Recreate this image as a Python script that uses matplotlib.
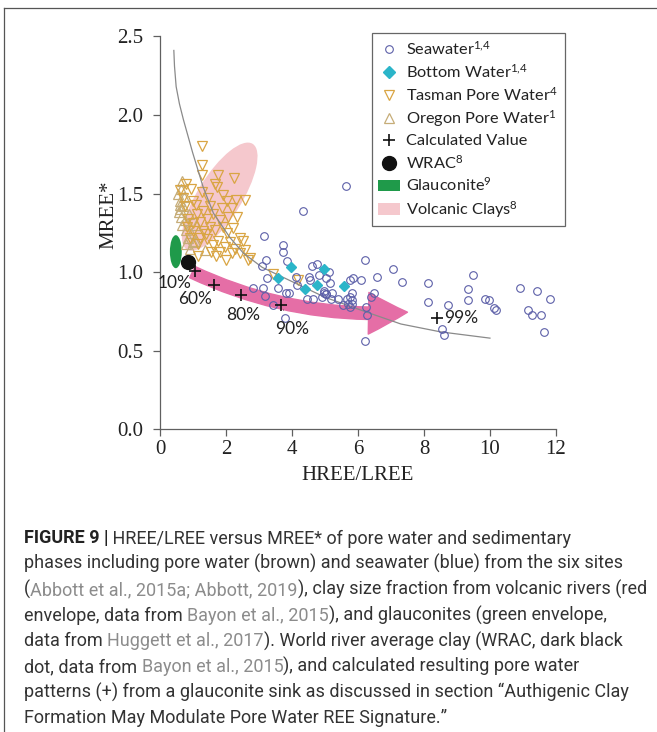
import matplotlib
matplotlib.use("Agg")
import matplotlib.pyplot as plt
import numpy as np
from matplotlib.lines import Line2D
from matplotlib.patches import Patch, Ellipse, FancyArrowPatch, ArrowStyle
from matplotlib.font_manager import FontProperties
from matplotlib.transforms import IdentityTransform

plt.rcParams["mathtext.fontset"] = "custom"
plt.rcParams["mathtext.rm"] = "Lato"
plt.rcParams["mathtext.it"] = "Lato"
plt.rcParams["mathtext.bf"] = "Lato:bold"

# ---- data ----
sw_x = [5.65, 4.33, 3.15, 3.72, 3.74, 3.22, 3.86, 3.08, 3.24, 2.81, 3.13, 3.59,
        3.19, 3.82, 3.92, 4.12, 4.55, 4.51, 4.60, 4.75, 5.03, 5.13, 4.45, 4.63,
        4.90, 4.97, 5.03, 5.21, 5.41, 5.56, 5.66, 5.81, 5.76, 5.86, 6.09, 6.22,
        6.57, 6.50, 6.40, 6.25, 6.27, 6.20, 3.41, 3.79, 4.14, 4.83, 5.16, 5.19,
        5.81, 5.76, 5.70, 5.75, 4.98, 5.02, 5.81,
        7.06, 7.33, 8.13, 8.12, 8.74, 8.56, 8.61, 9.50, 9.32, 9.32, 9.84, 9.96,
        10.11, 10.17, 10.91, 11.43, 11.83, 11.14, 11.26, 11.55, 11.63]
sw_y = [1.55, 1.39, 1.23, 1.17, 1.13, 1.08, 1.07, 1.04, 0.96, 0.90, 0.90, 0.90,
        0.85, 0.87, 0.87, 0.97, 0.95, 0.97, 1.04, 1.05, 0.96, 1.00, 0.83, 0.83,
        0.84, 0.87, 0.86, 0.87, 0.83, 0.79, 0.83, 0.82, 0.95, 0.96, 0.95, 1.08,
        0.97, 0.87, 0.84, 0.78, 0.73, 0.56, 0.79, 0.71, 0.92, 0.98, 0.93, 0.83,
        0.865, 0.84, 0.80, 0.78, 0.88, 0.86, 0.80,
        1.02, 0.94, 0.93, 0.81, 0.79, 0.64, 0.60, 0.98, 0.89, 0.82, 0.83, 0.82,
        0.77, 0.76, 0.90, 0.88, 0.83, 0.76, 0.73, 0.73, 0.62]

bw_x = [3.96, 3.59, 4.40, 4.77, 4.97, 5.58]
bw_y = [1.03, 0.96, 0.89, 0.92, 1.02, 0.91]

tas_x = [1.28, 1.26, 1.26, 1.77, 1.74, 2.24, 0.79, 0.93, 1.26, 1.01, 2.31, 1.52,
         1.31, 1.87, 2.17, 1.11, 1.62, 2.07, 1.42, 1.82, 1.21, 1.01, 1.52, 1.92,
         1.67, 2.22, 1.31, 1.01, 2.02, 2.43, 1.42, 1.77, 2.12, 1.21, 0.91, 1.62,
         1.97, 2.27, 2.43, 1.82, 2.17, 2.58, 2.73, 1.16, 0.81, 1.67, 2.58, 2.02,
         2.33, 2.53, 0.62, 0.70, 0.75, 1.45, 1.10, 1.90, 2.68, 3.44, 4.19, 0.85,
         1.38, 1.55, 1.70, 2.00, 1.15]
tas_y = [1.80, 1.68, 1.62, 1.62, 1.54, 1.60, 1.56, 1.53, 1.51, 1.45, 1.46, 1.42,
         1.39, 1.41, 1.41, 1.37, 1.37, 1.35, 1.34, 1.33, 1.32, 1.31, 1.29, 1.29,
         1.27, 1.28, 1.26, 1.26, 1.25, 1.22, 1.21, 1.20, 1.19, 1.22, 1.22, 1.17,
         1.16, 1.15, 1.12, 1.13, 1.12, 1.14, 1.09, 1.18, 1.29, 1.56, 1.46, 1.45,
         1.35, 1.20, 1.52, 1.47, 1.42, 1.47, 1.43, 1.49, 1.08, 0.99, 0.95, 1.34,
         1.24, 1.13, 1.10, 1.08, 1.10]

ore_x = [0.55, 0.60, 0.62, 0.58, 0.65, 0.70, 0.72, 0.68, 0.75, 0.80, 0.85, 0.78,
         0.92, 0.95, 1.05, 0.88, 0.64, 1.10, 0.61, 0.66, 1.36, 1.01]
ore_y = [1.50, 1.45, 1.40, 1.38, 1.35, 1.42, 1.48, 1.30, 1.33, 1.27, 1.22, 1.18,
         1.15, 1.25, 1.20, 1.37, 1.53, 1.30, 1.43, 1.58, 1.14, 1.19]

calc_x = [1.06, 1.64, 2.46, 3.67, 8.41]
calc_y = [1.01, 0.92, 0.855, 0.79, 0.71]
calc_lab = ["10%", "60%", "80%", "90%", "99%"]
calc_lab_x = [0.45, 1.06, 2.53, 3.99, 8.62]
calc_lab_y = [0.93, 0.83, 0.73, 0.64, 0.71]

wrac_x, wrac_y = 0.86, 1.065

curve_x = [0.42, 0.44, 0.49, 0.59, 0.71, 0.99, 1.31, 1.62, 2.12, 2.53, 3.10,
           4.00, 5.00, 6.20, 7.30, 8.50, 10.00]
curve_y = [2.41, 2.31, 2.18, 2.07, 1.97, 1.76, 1.54, 1.375, 1.22, 1.12, 1.03,
           0.94, 0.84, 0.75, 0.67, 0.62, 0.58]

glauc_xy, glauc_w, glauc_h = (0.48, 1.13), 0.36, 0.21
volc_end1, volc_end2 = (0.86, 1.16), (2.76, 1.80)   # ends of long axis
arrow_from, arrow_to = (0.98, 1.0), (7.5, 0.745)

C_SW = "#5c5fa8"
C_BW = "#2bb5c9"
C_TAS = "#d9a543"
C_ORE = "#c6ad78"
C_PINK = "#e56ea6"
C_VOLC = "#f5c8cd"
C_GLAU = "#1f9a4a"
AX_C = "#606060"

fig = plt.figure(figsize=(6.57, 7.32), dpi=100)
ax = fig.add_axes([0.2435, 0.4135, 0.6027, 0.5369])
ax.set_xlim(0, 12)
ax.set_ylim(0, 2.5)

# volcanic clay envelope, drawn in display space so it keeps its tilt
p1 = ax.transData.transform(volc_end1)
p2 = ax.transData.transform(volc_end2)
d = p2 - p1
ang = np.degrees(np.arctan2(d[1], d[0]))
ax.add_patch(Ellipse((p1 + p2) / 2, np.hypot(*d) * 1.05, 44, angle=ang,
                     transform=IdentityTransform(), facecolor=C_VOLC,
                     edgecolor="none", zorder=1))
ax.add_patch(Ellipse(glauc_xy, glauc_w, glauc_h, facecolor=C_GLAU,
                     edgecolor="none", zorder=2))

ax.add_patch(FancyArrowPatch(arrow_from, arrow_to,
                             arrowstyle=ArrowStyle.Simple(head_length=28, head_width=30,
                                                          tail_width=9),
                             connectionstyle="arc3,rad=0.13", color=C_PINK,
                             shrinkA=0, shrinkB=0, zorder=2))

ax.plot(ore_x, ore_y, ls="", marker="^", ms=7.2, mfc="none", mec=C_ORE, mew=0.9, zorder=3)
ax.plot(tas_x, tas_y, ls="", marker="v", ms=7.2, mfc="none", mec=C_TAS, mew=0.9, zorder=3)
ax.plot(curve_x, curve_y, color="#8a8a8a", lw=0.9, zorder=4)
ax.plot(sw_x, sw_y, ls="", marker="o", ms=5.5, mfc="none", mec=C_SW, mew=0.8, zorder=5)
ax.plot(bw_x, bw_y, ls="", marker="D", ms=5.5, color=C_BW, zorder=6)
ax.plot([wrac_x], [wrac_y], ls="", marker="o", ms=10, color="#111111", zorder=7)
ax.plot(calc_x, calc_y, ls="", marker="+", ms=8, mew=1.2, color="#111111", zorder=8)

lab_font = dict(family="Lato", fontsize=12.5, color="#222222")
for i, (lx, ly, t) in enumerate(zip(calc_lab_x, calc_lab_y, calc_lab)):
    if t == "90%":
        ax.annotate(t, xy=(calc_x[i] + 0.07, calc_y[i] - 0.03), xytext=(lx, ly),
                    ha="center", va="center", zorder=9,
                    arrowprops=dict(arrowstyle="-", lw=0.6, color="#444444",
                                    shrinkA=6, shrinkB=0), **lab_font)
    elif t == "99%":
        ax.text(lx, ly, t, ha="left", va="center", zorder=9, **lab_font)
    else:
        ax.text(lx, ly, t, ha="center", va="center", zorder=9, **lab_font)

for s in ["top", "right"]:
    ax.spines[s].set_visible(False)
for s in ["left", "bottom"]:
    ax.spines[s].set_color(AX_C)
    ax.spines[s].set_linewidth(0.9)
ax.set_xticks(np.arange(0, 13, 2))
ax.set_yticks(np.arange(0, 2.6, 0.5))
ax.set_yticklabels([f"{v:.1f}" for v in np.arange(0, 2.6, 0.5)])
ax.tick_params(axis="both", direction="out", length=5, width=0.9, color=AX_C,
               labelsize=15, labelcolor="#222222")
ax.tick_params(axis="x", pad=3)
ax.tick_params(axis="y", pad=7)
for lab in ax.get_xticklabels() + ax.get_yticklabels():
    lab.set_family("Liberation Serif")
ax.set_xlabel("HREE/LREE", family="Liberation Serif", fontsize=15, color="#222222")
ax.set_ylabel("MREE*", family="Liberation Serif", fontsize=15, color="#222222")
ax.xaxis.set_label_coords(0.5, -0.093)
ax.yaxis.set_label_coords(-0.105, 0.545)

handles = [
    Line2D([], [], ls="", marker="o", ms=5.5, mfc="none", mec=C_SW, mew=0.8),
    Line2D([], [], ls="", marker="D", ms=6.5, color=C_BW),
    Line2D([], [], ls="", marker="v", ms=7, mfc="none", mec=C_TAS, mew=0.9),
    Line2D([], [], ls="", marker="^", ms=7, mfc="none", mec=C_ORE, mew=0.9),
    Line2D([], [], ls="", marker="+", ms=9, mew=1.2, color="#111111"),
    Line2D([], [], ls="", marker="o", ms=10, color="#111111"),
    Patch(facecolor=C_GLAU, edgecolor="none"),
    Patch(facecolor=C_VOLC, edgecolor="none"),
]
labels = [r"Seawater$^{1,\!4}$", r"Bottom Water$^{1,\!4}$", "Tasman Pore Water$^{4}$",
          "Oregon Pore Water$^{1}$", "Calculated Value", "WRAC$^{8}$",
          "Glauconite$^{9}$", "Volcanic Clays$^{8}$"]
leg = ax.legend(handles, labels, loc="upper left", bbox_to_anchor=(0.535, 1.008),
                borderaxespad=0, prop=FontProperties(family="Lato", size=11.8),
                handlelength=1.3, handletextpad=0.4, borderpad=0.4,
                labelspacing=0.3, fancybox=False, framealpha=1)
leg.get_frame().set_edgecolor("#666666")
leg.get_frame().set_linewidth(0.9)
for t in leg.get_texts():
    t.set_color("#222222")
leg.set_zorder(10)

# ---- caption ----
cap_lines = [
    [("FIGURE 9 |", "b"), (" HREE/LREE versus MREE* of pore water and sedimentary", "n")],
    [("phases including pore water (brown) and seawater (blue) from the six sites", "n")],
    [("(", "n"), ("Abbott et al., 2015a; Abbott, 2019", "c"),
     ("), clay size fraction from volcanic rivers (red", "n")],
    [("envelope, data from ", "n"), ("Bayon et al., 2015", "c"),
     ("), and glauconites (green envelope,", "n")],
    [("data from ", "n"), ("Huggett et al., 2017", "c"),
     ("). World river average clay (WRAC, dark black", "n")],
    [("dot, data from ", "n"), ("Bayon et al., 2015", "c"),
     ("), and calculated resulting pore water", "n")],
    [("patterns (+) from a glauconite sink as discussed in section \u201cAuthigenic Clay", "n")],
    [("Formation May Modulate Pore Water REE Signature.\u201d", "n")],
]
cap_size = 13.0
styles = {
    "b": (FontProperties(family="Roboto", weight="bold", size=cap_size), "#222222"),
    "n": (FontProperties(family="Roboto", size=cap_size), "#333333"),
    "c": (FontProperties(family="Roboto", size=cap_size), "#8c8c8c"),
}
W, H = fig.get_size_inches() * fig.dpi
renderer = fig.canvas.get_renderer()


def seg_width(s, fp):
    w1 = renderer.get_text_width_height_descent(s + "|", fp, ismath=False)[0]
    w2 = renderer.get_text_width_height_descent("|", fp, ismath=False)[0]
    return w1 - w2


for li, segs in enumerate(cap_lines):
    x = 24.0
    y = 543.5 + li * 25.7
    for s, st in segs:
        fp, col = styles[st]
        fig.text(x / W, 1 - y / H, s, fontproperties=fp, color=col,
                 ha="left", va="baseline")
        x += seg_width(s, fp)

# frame lines at the left and top edges
fig.add_artist(Line2D([3.5 / W, 3.5 / W], [0, 1 - 7.5 / H], color="#555555", lw=0.9))
fig.add_artist(Line2D([3.5 / W, 1], [1 - 7.5 / H, 1 - 7.5 / H], color="#555555", lw=0.9))

fig.savefig("out.png", dpi=100)
